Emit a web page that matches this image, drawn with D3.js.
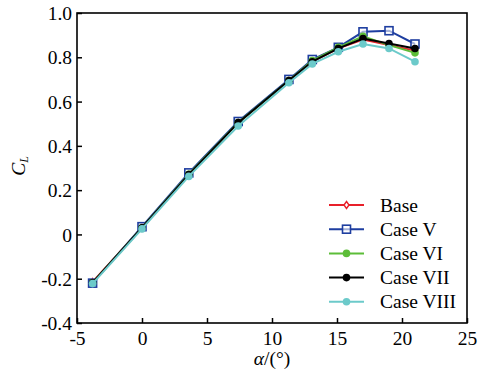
<!DOCTYPE html>
<html>
<head>
<meta charset="utf-8">
<script src="https://cdn.jsdelivr.net/npm/d3@7"></script>
<style>
  body { margin: 0; background: #fff; }
</style>
</head>
<body>
<div id="chart"></div>
<script>
// angle of attack (deg)
var alpha = [-3.8, 0, 3.6, 7.4, 11.3, 13.1, 15.1, 17, 19, 21];

var base     = [-0.215, 0.030, 0.270, 0.505, 0.695, 0.780, 0.840, 0.880, 0.855, 0.830];
var caseV    = [-0.220, 0.035, 0.278, 0.510, 0.700, 0.790, 0.845, 0.915, 0.920, 0.860];
var caseVI   = [-0.218, 0.030, 0.272, 0.505, 0.695, 0.785, 0.845, 0.895, 0.855, 0.820];
var caseVII  = [-0.218, 0.030, 0.270, 0.505, 0.695, 0.780, 0.840, 0.885, 0.862, 0.840];
var caseVIII = [-0.222, 0.025, 0.262, 0.490, 0.685, 0.770, 0.825, 0.860, 0.840, 0.780];

var seriesNames = ['Base', 'Case V', 'Case VI', 'Case VII', 'Case VIII'];
var xTicks = [-5, 0, 5, 10, 15, 20, 25];
var yTicks = [-0.4, -0.2, 0, 0.2, 0.4, 0.6, 0.8, 1.0];

var series = [
  {name: seriesNames[0], y: base,     color: '#e8202a', marker: 'diamond'},
  {name: seriesNames[1], y: caseV,    color: '#1e3ea0', marker: 'square'},
  {name: seriesNames[2], y: caseVI,   color: '#5cbd38', marker: 'circle'},
  {name: seriesNames[3], y: caseVII,  color: '#000000', marker: 'circle'},
  {name: seriesNames[4], y: caseVIII, color: '#6ccaca', marker: 'circle'}
];

var W = 481, H = 372;
var m = {left: 77, right: 14, top: 13, bottom: 49};
var serif = 'Liberation Serif';

var svg = d3.select('#chart').append('svg')
  .attr('width', W).attr('height', H);

var x = d3.scaleLinear().domain([-5, 25]).range([m.left, W - m.right]);
var y = d3.scaleLinear().domain([-0.4, 1.0]).range([H - m.bottom, m.top]);

var fs = 19.5;

// x axis, ticks pointing in
var xAxis = svg.append('g')
  .attr('transform', 'translate(0,' + (H - m.bottom) + ')')
  .call(d3.axisBottom(x).tickValues(xTicks).tickSizeInner(-5).tickSizeOuter(0).tickPadding(8)
    .tickFormat(function(d) { return String(d); }));
var yAxis = svg.append('g')
  .attr('transform', 'translate(' + m.left + ',0)')
  .call(d3.axisLeft(y).tickValues(yTicks).tickSizeInner(-5).tickSizeOuter(0).tickPadding(5)
    .tickFormat(function(d) { return Math.abs(d) < 1e-9 ? '0' : d.toFixed(1); }));

[xAxis, yAxis].forEach(function(g) {
  g.attr('font-family', null).attr('font-size', null);
  g.select('.domain').remove();
  g.selectAll('.tick line').attr('stroke', '#000').attr('stroke-width', 1.5);
  g.selectAll('.tick text').attr('fill', '#000')
    .style('font-family', serif).style('font-size', fs + 'px');
});
yAxis.selectAll('.tick text').attr('dy', '0.34em');

// frame
svg.append('rect')
  .attr('x', x(-5)).attr('y', y(1.0))
  .attr('width', x(25) - x(-5)).attr('height', y(-0.4) - y(1.0))
  .attr('fill', 'none').attr('stroke', '#000').attr('stroke-width', 1.6);

var line = d3.line()
  .x(function(d, i) { return x(alpha[i]); })
  .y(function(d) { return y(d); });

function drawMarker(g, type, cx, cy, color) {
  if (type === 'diamond') {
    g.append('path')
      .attr('d', 'M' + cx + ',' + (cy - 3.5) + 'L' + (cx + 2.5) + ',' + cy + 'L' + cx + ',' + (cy + 3.5) + 'L' + (cx - 2.5) + ',' + cy + 'Z')
      .attr('fill', '#fff').attr('stroke', color).attr('stroke-width', 1.4);
  } else if (type === 'square') {
    g.append('rect')
      .attr('x', cx - 4).attr('y', cy - 4).attr('width', 8).attr('height', 8)
      .attr('fill', '#fff').attr('fill-opacity', 0.6)
      .attr('stroke', color).attr('stroke-width', 1.6);
  } else {
    g.append('circle').attr('cx', cx).attr('cy', cy).attr('r', 3.8)
      .attr('fill', color);
  }
}

series.forEach(function(s) {
  var g = svg.append('g');
  g.append('path').datum(s.y)
    .attr('d', line)
    .attr('fill', 'none').attr('stroke', s.color).attr('stroke-width', 2);
  s.y.forEach(function(v, i) {
    drawMarker(g, s.marker, x(alpha[i]), y(v), s.color);
  });
});

// legend
var lg = svg.append('g');
series.forEach(function(s, i) {
  var ly = 205 + i * 24.2;
  lg.append('line').attr('x1', 329).attr('x2', 364).attr('y1', ly).attr('y2', ly)
    .attr('stroke', s.color).attr('stroke-width', 2);
  drawMarker(lg, s.marker, 346.5, ly, s.color);
  lg.append('text').attr('x', 380).attr('y', ly).attr('dy', '0.34em')
    .style('font-family', serif).style('font-size', fs + 'px').text(s.name);
});

// axis titles
var xl = svg.append('text')
  .attr('x', (x(-5) + x(25)) / 2).attr('y', 365)
  .style('font-family', serif).style('font-size', fs + 'px')
  .attr('text-anchor', 'middle');
xl.append('tspan').style('font-style', 'italic').text('α');
xl.append('tspan').text('/(°)');

var yl = svg.append('text')
  .attr('transform', 'translate(25,166) rotate(-90)')
  .style('font-family', serif).style('font-size', fs + 'px')
  .attr('text-anchor', 'middle');
yl.append('tspan').style('font-style', 'italic').text('C');
yl.append('tspan').style('font-style', 'italic').style('font-size', '12px')
  .attr('dy', '3').text('L');
</script>
</body>
</html>
